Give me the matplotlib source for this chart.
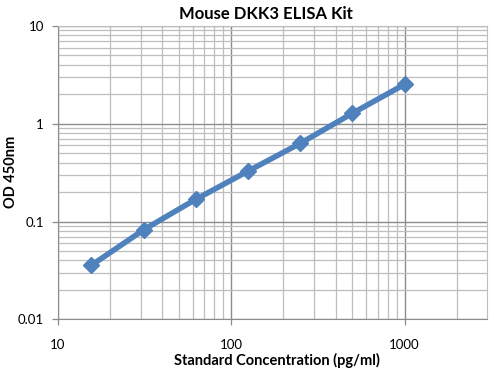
import numpy as np
import matplotlib
matplotlib.use("Agg")
import matplotlib.pyplot as plt
from matplotlib.ticker import FixedLocator, FixedFormatter, NullFormatter

# данные стандартной кривой
conc = [15.6, 31.25, 62.5, 125, 250, 500, 1000]
od = [0.0357, 0.0824, 0.169, 0.328, 0.63, 1.28, 2.53]

x_major = [10, 100, 1000]
x_labels = ["10", "100", "1000"]
y_major = [0.01, 0.1, 1, 10]
y_labels = ["0.01", "0.1", "1", "10"]

plt.rcParams['font.family'] = ['Lato', 'DejaVu Sans']

fig = plt.figure(figsize=(5.02, 3.74), dpi=100)
ax = fig.add_axes([0.1155, 0.1463, 0.8552, 0.7842])

ax.set_xscale('log')
ax.set_yscale('log')
ax.set_xlim(10, 3000)
ax.set_ylim(0.01, 10)

# сетка: все промежуточные линии
x_minor = [m * 10**d for d in range(1, 4) for m in range(2, 10) if m * 10**d < 3000]
y_minor = [m * 10.0**d for d in range(-2, 1) for m in range(2, 10)]
ax.xaxis.set_major_locator(FixedLocator(x_major))
ax.xaxis.set_major_formatter(FixedFormatter(x_labels))
ax.xaxis.set_minor_locator(FixedLocator(x_minor))
ax.xaxis.set_minor_formatter(NullFormatter())
ax.yaxis.set_major_locator(FixedLocator(y_major))
ax.yaxis.set_major_formatter(FixedFormatter(y_labels))
ax.yaxis.set_minor_locator(FixedLocator(y_minor))
ax.yaxis.set_minor_formatter(NullFormatter())

ax.grid(True, which='major', color='#8c8c8c', linewidth=1.0)
ax.grid(True, which='minor', color='#bebebe', linewidth=0.9)
ax.set_axisbelow(True)

ax.tick_params(which='major', length=4, width=0.9, color='#8c8c8c', labelsize=9.5)
ax.tick_params(which='minor', length=0)
ax.tick_params(axis='x', pad=10)
ax.tick_params(axis='y', pad=6)

for side in ['top', 'right']:
    ax.spines[side].set_color('#bebebe')
for side in ['left', 'bottom']:
    ax.spines[side].set_color('#8c8c8c')

ax.plot(conc, od, color='#4f81bd', linewidth=4, marker='D', markersize=8,
        solid_capstyle='round', zorder=5)

fig.text(266 / 502, 1 - 14 / 374, 'Mouse DKK3 ELISA Kit', fontsize=12,
         fontweight='bold', ha='center', va='center')
fig.text(277 / 502, 1 - 360 / 374, 'Standard Concentration (pg/ml)', fontsize=10.5,
         fontweight='bold', ha='center', va='center')
fig.text(11 / 502, 1 - 172 / 374, 'OD 450nm', fontsize=10.5, fontweight='bold',
         ha='center', va='center', rotation=90)

fig.savefig('out.png', dpi=100)
